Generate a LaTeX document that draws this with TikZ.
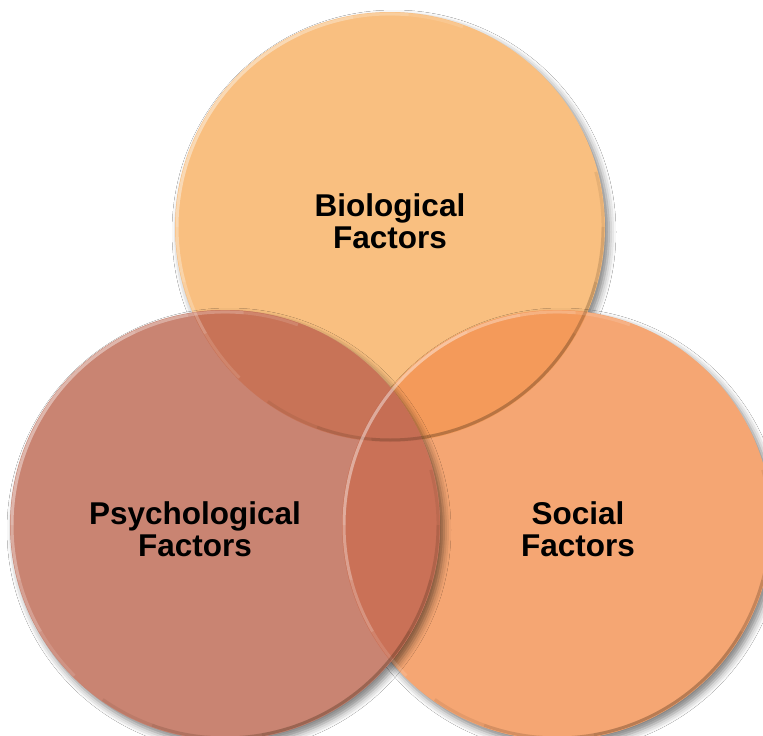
\documentclass[tikz,border=0pt]{standalone}
\usepackage{fontspec}
\setmainfont{Liberation Sans}
\usetikzlibrary{shadows.blur}
\definecolor{bioC}{HTML}{F9BF80}
\definecolor{psyC}{HTML}{C98472}
\definecolor{socC}{HTML}{F5A673}
\definecolor{bsC}{HTML}{F49A5A}
\definecolor{bpC}{HTML}{C87357}
\definecolor{psC}{HTML}{CA7157}
\definecolor{allC}{HTML}{C66E54}
\tikzset{
  venn/.style={circle, minimum size=430pt, inner sep=0pt,
    blur shadow={shadow xshift=4pt, shadow yshift=-5pt, shadow blur radius=7pt, shadow opacity=50}},
  label/.style={font=\fontsize{31.5}{32}\selectfont\bfseries, align=center, text=black},
  darkrim/.style={line width=3pt, draw=black!70!brown, draw opacity=0.09},
  lightrim/.style={line width=3pt, draw=white, draw opacity=0.13}
}
\begin{document}
\begin{tikzpicture}[x=1pt,y=-1pt]
\useasboundingbox (0,0) rectangle (763,736);
\clip (0,0) rectangle (763,736);
\fill[white] (0,0) rectangle (763,736);
\coordinate (cb) at (390,227);
\coordinate (cs) at (557,525);
\coordinate (cp) at (225,525);
% top circle
\node[venn, fill=bioC] (bio) at (cb) {};
% right circle
\node[venn, fill=socC] (soc) at (cs) {};
\begin{scope}
  \clip (cb) circle (215pt);
  \fill[bsC] (cs) circle (215pt);
\end{scope}
% left circle
\node[venn, fill=psyC] (psy) at (cp) {};
\begin{scope}
  \clip (cp) circle (215pt);
  \fill[bpC] (cb) circle (215pt);
  \fill[psC] (cs) circle (215pt);
  \clip (cb) circle (215pt);
  \fill[allC] (cs) circle (215pt);
\end{scope}
% rims
\foreach \c in {cb,cs,cp}{
  \foreach \a/\b in {15/-125,0/-110,-15/-95,-30/-80}{
    \draw[darkrim] (\c) ++(\a:213pt) arc[start angle=\a, end angle=\b, radius=213pt];
  }
  \foreach \a/\b in {70/225,85/210,100/195,115/180}{
    \draw[lightrim] (\c) ++(\a:213pt) arc[start angle=\a, end angle=\b, radius=213pt];
  }
}
% labels
\node[label] (tb) at (390,221) {Biological\\Factors};
\node[label] (tp) at (195,529) {Psychological\\Factors};
\node[label] (ts) at (578,529) {Social\\Factors};
\end{tikzpicture}
\end{document}
